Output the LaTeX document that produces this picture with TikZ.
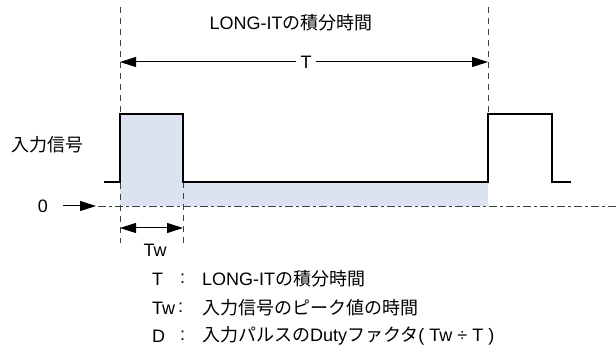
\documentclass[tikz,border=0pt]{standalone}
\usepackage{fontspec}
\setmainfont{Liberation Sans}
\newfontfamily\cjk{Noto Sans CJK JP}
\usetikzlibrary{arrows.meta}
\tikzset{
  signal/.style={line width=1.8pt, black},
  guide/.style={line width=0.7pt, black!75, dash pattern=on 6pt off 5pt},
  zeroline/.style={line width=0.9pt, black!75, dash pattern=on 8pt off 3pt on 3pt off 3pt},
  dim/.style={line width=1pt, black, -{Triangle[length=16pt,width=10pt]}},
  dimboth/.style={line width=1pt, black, {Triangle[length=16pt,width=10pt]}-{Triangle[length=16pt,width=10pt]}},
  lbl/.style={inner sep=1pt, font=\fontsize{18}{21}\selectfont},
  leg/.style={inner sep=0pt, anchor=west, font=\fontsize{18}{21}\selectfont}
}
\definecolor{fillblue}{HTML}{DCE2F2}
\begin{document}
\begin{tikzpicture}[x=1pt,y=-1pt]
\useasboundingbox (0,0) rectangle (616,352);
% fill
\fill[fillblue] (120,114) rectangle (183,206);
\fill[fillblue] (183,182) rectangle (488,206);
% guides
\coordinate (gl1) at (120,7);
\coordinate (gl2) at (120,243);
\coordinate (gm1) at (183,182);
\coordinate (gm2) at (183,243);
\coordinate (gr1) at (488,7);
\coordinate (gr2) at (488,114);
\draw[guide] (gl1) -- (gl2);
\draw[guide] (gm1) -- (gm2);
\draw[guide] (gr1) -- (gr2);
% zero line
\coordinate (z1) at (98,206);
\coordinate (z2) at (616,206);
\draw[zeroline] (z1) -- (z2);
% signal
\draw[signal, line join=miter] (104,182) -- (120,182) -- (120,114) -- (183,114) -- (183,182) -- (488,182) -- (488,114) -- (552,114) -- (552,182) -- (571,182);
% title
\node[lbl] (title) at (291,23) {LONG-IT{\cjk の積分時間}};
% T dimension
\node[lbl, inner sep=4pt] (Tl) at (306,62) {T};
\coordinate (ta) at (120,62);
\coordinate (tb) at (488,62);
\draw[dim] (Tl.west) -- (ta);
\draw[dim] (Tl.east) -- (tb);
% input label
\node[lbl] (inp) at (48,145) {\cjk 入力信号};
% zero
\node[lbl] (zero) at (43,206) {0};
\coordinate (zs) at (63,206);
\coordinate (za) at (96,206);
\draw[dim] (zs) -- (za);
% Tw dimension
\coordinate (wa) at (120,228);
\coordinate (wb) at (183,228);
\draw[dimboth] (wa) -- (wb);
\node[lbl] (Tw) at (155,250) {Tw};
% legend
\node[leg] (k1) at (152,279) {T};
\node[leg] (c1) at (180,279) {:};
\node[leg] (v1) at (202,279) {LONG-IT{\cjk の積分時間}};
\node[leg] (k2) at (152,308) {Tw};
\node[leg] (c2) at (178,308) {:};
\node[leg] (v2) at (202,308) {\cjk 入力信号のピーク値の時間};
\node[leg] (k3) at (152,336) {D};
\node[leg] (c3) at (180,336) {:};
\node[leg] (v3) at (202,336) {{\cjk 入力パルスの}Duty{\cjk ファクタ}( Tw ÷ T )};
\end{tikzpicture}
\end{document}
